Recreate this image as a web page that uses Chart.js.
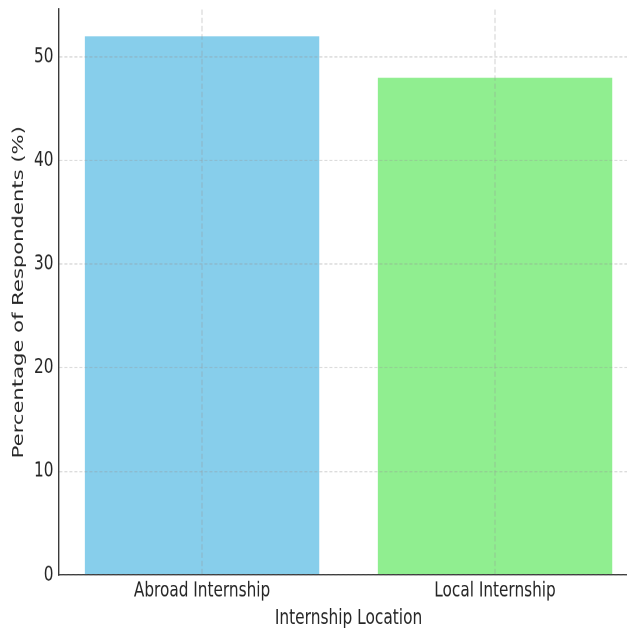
<!DOCTYPE html>
<html>
<head>
<meta charset="utf-8">
<script src="https://cdn.jsdelivr.net/npm/chart.js@4.4.1/dist/chart.umd.min.js"></script>
<style>
  html, body { margin: 0; padding: 0; background: #fff; }
  #wrap { width: 627px; height: 628px; overflow: hidden; position: relative; }
  /* la figura original esta estirada en vertical, se reproduce con un scaleY */
  #grafico { transform-origin: 0 0; transform: scaleY(1.3712); }
</style>
</head>
<body>
<div id="wrap">
  <canvas id="grafico" width="650" height="458"></canvas>
</div>
<script>
const categorias = ['Abroad Internship', 'Local Internship'];
const porcentajes = [52, 48];
const ticksY = [0, 10, 20, 30, 40, 50];
const Y_MAX = 54.6;                // 52 * 1.05, margen por defecto de matplotlib
const X_MIN = -0.49, X_MAX = 1.49; // barras de ancho 0.8 con margen de 5%

const fuenteTicks = { family: 'DejaVu Sans', size: 15.3, lineHeight: 1 };
const fuenteTitulos = { family: 'DejaVu Sans', size: 15.4, lineHeight: 1 };
const colorTexto = '#262626';
const colorEje = '#3a3a3a';
const colorGrid = 'rgba(150, 150, 150, 0.45)';

const ctx = document.getElementById('grafico').getContext('2d');

new Chart(ctx, {
    type: 'bar',
    data: {
        datasets: [{
            label: 'Percentage of Respondents (%)',
            data: porcentajes.map((v, i) => ({ x: i, y: v })),
            backgroundColor: ['#87CEEB', '#90EE90'],
            borderWidth: 0,
            barPercentage: 0.8,
            categoryPercentage: 1.0
        }]
    },
    options: {
        responsive: false,
        animation: false,
        devicePixelRatio: 2,
        layout: {
            padding: { top: 6.9, right: 11.4, bottom: 0, left: 0.5 }
        },
        plugins: {
            legend: { display: false },
            tooltip: { enabled: false }
        },
        scales: {
            x: {
                type: 'linear',
                min: X_MIN,
                max: X_MAX,
                offset: false,
                afterBuildTicks: (scale) => {
                    scale.ticks = categorias.map((c, i) => ({ value: i }));
                },
                grid: {
                    z: 1,
                    offset: false,
                    color: colorGrid,
                    lineWidth: 1,
                    drawTicks: false
                },
                border: { z: 1, color: colorEje, width: 1.1, dash: [4, 2] },
                ticks: {
                    font: fuenteTicks,
                    color: colorTexto,
                    padding: 4,
                    maxRotation: 0,
                    autoSkip: false,
                    callback: (v) => categorias[v]
                },
                title: {
                    display: true,
                    text: 'Internship Location',
                    font: fuenteTitulos,
                    color: colorTexto,
                    padding: { top: 0, bottom: -0.5 }
                },
                afterFit: (scale) => {
                    scale.height = 38.7;
                    scale.paddingLeft = 0;
                    scale.paddingRight = 0;
                }
            },
            y: {
                min: 0,
                max: Y_MAX,
                grid: {
                    z: 1,
                    color: colorGrid,
                    lineWidth: 0.8,
                    drawTicks: false
                },
                border: { z: 1, color: colorEje, width: 1.4, dash: [3, 2] },
                ticks: { font: fuenteTicks, color: colorTexto, padding: 5 },
                afterBuildTicks: (scale) => {
                    scale.ticks = ticksY.map(v => ({ value: v }));
                },
                title: {
                    display: true,
                    text: 'Percentage of Respondents (%)',
                    font: fuenteTitulos,
                    color: colorTexto,
                    padding: { top: 11, bottom: 0 }
                },
                afterFit: (scale) => {
                    scale.width = 58;
                    scale.paddingTop = 0;
                    scale.paddingBottom = 0;
                }
            }
        }
    }
});
</script>
</body>
</html>
